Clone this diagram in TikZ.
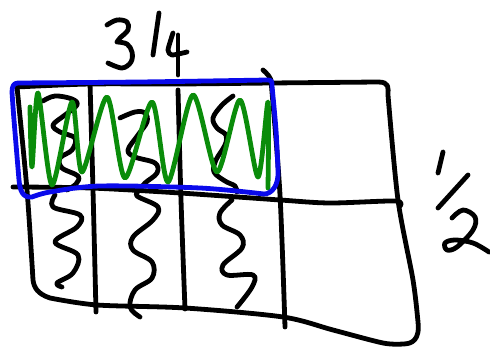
\documentclass[tikz,border=0pt]{standalone}
\begin{document}
\begin{tikzpicture}[x=1pt,y=-1pt,
  ink/.style={line width=4.8pt,line cap=round,line join=round},
  blk/.style={ink,black},
  blu/.style={ink,color={rgb,255:red,10;green,10;blue,235}},
  grn/.style={ink,color={rgb,255:red,10;green,140;blue,10}}]
\useasboundingbox (0,0) rectangle (490,347);
% outer outline
\draw[blk] plot[smooth,tension=0.5] coordinates {(17,87) (90,84) (178,84) (272,83) (378,82)}
  .. controls (390,82) and (388,88) .. (388,95)
  plot[smooth,tension=0.5] coordinates {(388,95) (398,200) (413,280) (418,322)}
  .. controls (420,340) and (412,344) .. (403,344)
  plot[smooth,tension=0.5] coordinates {(403,344) (383,343) (333,330) (283,317) (185,308) (97,305) (50,298)}
  .. controls (38,294) and (34,288) .. (33,280)
  plot[smooth,tension=0.5] coordinates {(33,280) (27,190) (17,87)};
% middle horizontal line
\draw[blk] plot[smooth,tension=0.5] coordinates {(13,187) (90,188) (180,193) (280,200) (330,203) (395,201) (400,206)};
% vertical lines
\draw[blk] plot[smooth,tension=0.5] coordinates {(90,83) (93,190) (96,312)};
\draw[blk] plot[smooth,tension=0.5] coordinates {(178,90) (181,200) (185,309)};
\draw[blk] plot[smooth,tension=0.5] coordinates {(263,70) (270,78) (272,92) (280,195) (285,327)};
% black squiggles, top row
\draw[blk] plot[smooth,tension=0.6] coordinates {(43,101) (55,96) (72,99) (77,105) (65,115) (53,125) (60,132) (75,138) (72,150) (60,158) (62,168) (78,176) (76,184) (67,190)};
\draw[blk] plot[smooth,tension=0.6] coordinates {(120,118) (135,112) (145,113) (147,122) (138,135) (128,150) (135,157) (155,163) (157,173) (145,183) (140,190)};
\draw[blk] plot[smooth,tension=0.6] coordinates {(233,96) (222,105) (213,118) (217,128) (226,135) (225,145) (216,160) (214,172) (225,181) (235,186) (237,192)};
% black squiggles, bottom row
\draw[blk] plot[smooth,tension=0.6] coordinates {(55,195) (53,207) (80,215) (77,227) (55,242) (78,255) (73,273) (57,283) (62,287)};
\draw[blk] plot[smooth,tension=0.6] coordinates {(140,190) (137,196) (158,207) (153,220) (133,237) (133,250) (152,262) (152,278) (135,290) (130,307) (140,317)};
\draw[blk] plot[smooth,tension=0.6] coordinates {(232,200) (220,213) (222,225) (240,235) (242,248) (223,265) (227,275) (253,275) (252,287) (237,307)};
% green zigzag
\draw[grn] plot[smooth,tension=0.45] coordinates {(30,107) (32,167) (38,93) (52,185) (72,102) (82,172) (107,97) (125,178) (152,102) (168,182) (193,95) (217,172) (240,100) (258,177) (268,102) (268,188)};
% blue box
\draw[blu] plot[smooth,tension=0.5] coordinates {(18,83) (140,82) (268,80)}
  .. controls (272,80) and (272,82) .. (272,86)
  plot[smooth,tension=0.5] coordinates {(272,86) (276,130) (278,170)}
  .. controls (279,185) and (272,194) .. (264,194)
  plot[smooth,tension=0.5] coordinates {(264,194) (200,188) (100,186) (50,192) (32,197)}
  .. controls (22,198) and (20,190) .. (19,180)
  plot[smooth,tension=0.5] coordinates {(19,180) (14,120) (12,92)}
  .. controls (12,86) and (14,83) .. (18,83);
% 3/4
\draw[blk] plot[smooth,tension=0.6] coordinates {(107,25) (117,20) (127,22) (128,30) (120,38) (117,42)}
  plot[smooth,tension=0.6] coordinates {(117,42) (127,44) (132,52) (131,62) (122,68) (108,63)};
\draw[blk] (159,13) -- (153,55);
\draw[blk] plot[smooth,tension=0.4] coordinates {(173,33) (168,50) (172,55) (187,52)};
\draw[blk] (178,35) -- (178,75);
% 1/2
\draw[blk] (443,152) -- (438,173);
\draw[blk] (468,175) -- (438,208);
\draw[blk] plot[smooth,tension=0.6] coordinates {(452,218) (463,210) (475,217) (473,230) (457,247) (447,250) (445,243) (455,240) (473,243) (489,252)};
\end{tikzpicture}
\end{document}
